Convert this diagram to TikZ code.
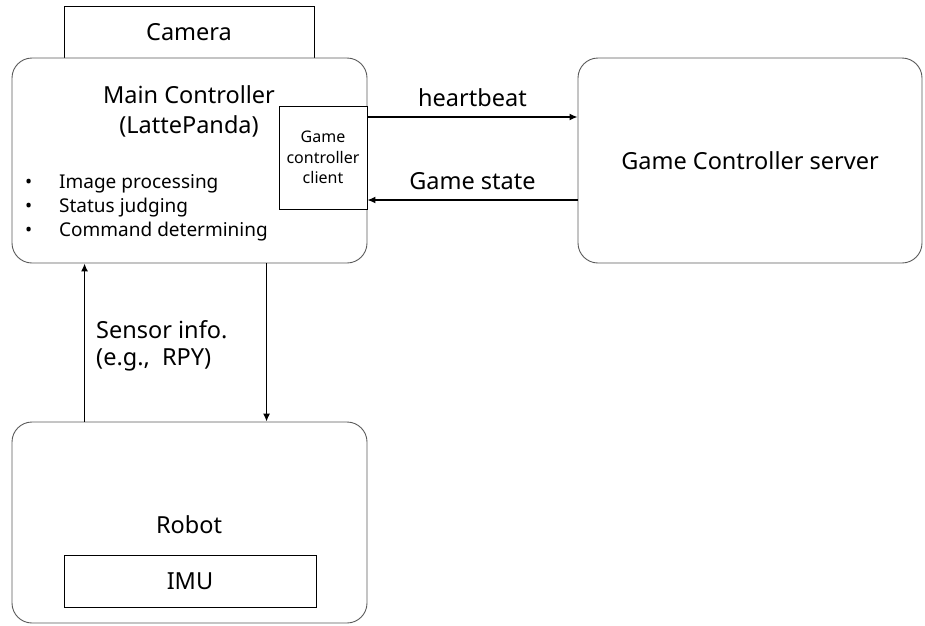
\documentclass[tikz,border=0pt]{standalone}
\usepackage{fontspec}
\setmainfont{Noto Sans}
\usetikzlibrary{arrows.meta}
\definecolor{rimgray}{RGB}{90,90,90}
\begin{document}
\begin{tikzpicture}[x=1pt, y=-1pt,
        rbox/.style={draw=rimgray, line width=0.9pt, rounded corners=20pt, fill=white},
        sbox/.style={draw=black, line width=0.8pt, fill=white},
        link/.style={line width=1.4pt, -{Latex[length=8pt,width=7pt]}},
        big/.style={font=\fontsize{23.5}{30}\selectfont}]
        \useasboundingbox (0,0) rectangle (925,625);

        % Камера
        \node[sbox, big, minimum width=250pt, minimum height=53pt, inner sep=0pt] (camera) at (189,32.5) {Camera};

        % Главный контроллер
        \node[rbox, minimum width=355pt, minimum height=205pt] (main) at (189.5,160.5) {};
        \node[big, align=center] (maintxt) at (189,111) {Main Controller\\(LattePanda)};
        \node[font=\fontsize{19}{24}\selectfont, anchor=west, inner sep=0pt] (tasks) at (25,208)
            {\begin{tabular}{@{}p{34pt}@{}l@{}}
             \textbullet & Image processing\\
             \textbullet & Status judging\\
             \textbullet & Command determining
             \end{tabular}};

        % Клиент
        \node[sbox, minimum width=88pt, minimum height=103pt, align=center, inner sep=0pt,
              font=\fontsize{16}{20.5}\selectfont] (client) at (323,157.5) {Game\\controller\\client};

        % Сервер
        \node[rbox, big, minimum width=344pt, minimum height=205pt] (server) at (750,160.5) {Game Controller server};

        % Робот
        \node[rbox, minimum width=355pt, minimum height=201pt] (robot) at (189.5,522.5) {};
        \node[big] (robottxt) at (189,525) {Robot};
        \node[sbox, big, minimum width=252pt, minimum height=52pt] (imu) at (190,581) {IMU};

        % Связи
        \draw[link] ([yshift=40.5pt]client.east) -- ([yshift=40.5pt]client.east -| server.west)
            node[midway, above=6pt, big] (hb) {heartbeat};
        \draw[link] ([yshift=-42.5pt]client.east -| server.west) -- ([yshift=-42.5pt]client.east)
            node[midway, above=6pt, big] (gs) {Game state};
        \draw[link] ([xshift=73pt]robot.north west) -- ([xshift=73pt]main.south west);
        \draw[link] ([xshift=255pt]main.south west) -- ([xshift=255pt]robot.north west);

        % Подпись
        \node[big, align=left, anchor=west, inner sep=0pt, font=\fontsize{23.5}{27}\selectfont] (sensor) at (96,346) {Sensor info.\\(e.g.,~ RPY)};
\end{tikzpicture}
\end{document}
